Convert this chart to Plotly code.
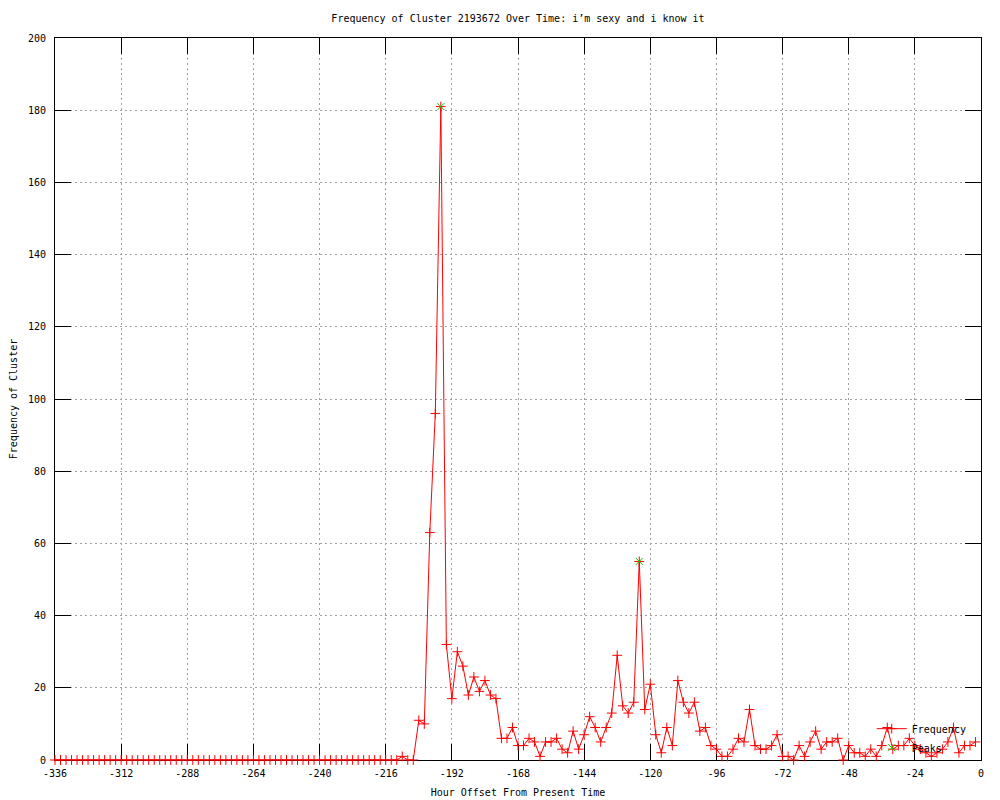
import plotly.graph_objects as go

# Hour offsets (every 2 hours, from -336 to -2)
hours = list(range(-336, 0, 2))

# Frequency of cluster per 2-hour bin
freq = [
    0, 0, 0, 0, 0, 0, 0, 0, 0, 0,
    0, 0, 0, 0, 0, 0, 0, 0, 0, 0,
    0, 0, 0, 0, 0, 0, 0, 0, 0, 0,
    0, 0, 0, 0, 0, 0, 0, 0, 0, 0,
    0, 0, 0, 0, 0, 0, 0, 0, 0, 0,
    0, 0, 0, 0, 0, 0, 0, 0, 0, 0,
    0, 0, 0,
    1, 0, 0, 11, 10, 63, 96, 181, 32, 17,
    30, 26, 18, 23, 19, 22, 18, 17, 6, 6,
    9, 4, 4, 6, 5, 1, 5, 5, 6, 3,
    2, 8, 3, 7, 12, 9, 5, 9, 13, 29,
    15, 13, 16, 55, 14, 21, 7, 2, 9, 4,
    22, 16, 13, 16, 8, 9, 4, 3, 1, 1,
    3, 6, 5, 14, 4, 3, 3, 4, 7, 1,
    1, 0, 4, 1, 5, 8, 3, 5, 5, 6,
    0, 4, 2, 2, 1, 3, 1, 4, 9, 3,
    4, 4, 6, 4, 3, 2, 1, 2, 3, 5,
    9, 2, 4, 4, 5,
]

peak_hours = [-196, -124]
peak_freq = [181, 55]

x_tick_vals = [-336, -312, -288, -264, -240, -216, -192, -168, -144, -120, -96, -72, -48, -24, 0]
x_tick_text = ["-336", "-312", "-288", "-264", "-240", "-216", "-192", "-168", "-144",
               "-120", "-96", "-72", "-48", "-24", "0"]
y_tick_vals = [0, 20, 40, 60, 80, 100, 120, 140, 160, 180, 200]

FONT = "DejaVu Sans Mono"
W, H = 992, 792

fig = go.Figure()
fig.add_trace(go.Scatter(
    x=hours, y=freq, mode="lines+markers", name="Frequency",
    line=dict(color="#ff0000", width=1),
    marker=dict(symbol="cross-thin", size=7, color="#ff0000",
                line=dict(color="#ff0000", width=1)),
    cliponaxis=False,
))
fig.add_trace(go.Scatter(
    x=peak_hours, y=peak_freq, mode="markers", name="Peaks",
    marker=dict(symbol="x-thin", size=7, color="#00cc00",
                line=dict(color="#00cc00", width=1)),
    cliponaxis=False,
))

axis_common = dict(
    showline=True, linecolor="black", linewidth=1, mirror="ticks",
    ticks="inside", ticklen=16, tickcolor="black", tickwidth=1,
    showgrid=True, gridcolor="#a0a0a0", gridwidth=1, griddash="2px,3px",
    zeroline=False, automargin=False,
    tickfont=dict(family=FONT, size=10, color="black"),
    layer="below traces",
)

fig.update_layout(
    width=W, height=H, autosize=False,
    margin=dict(l=47, r=19, t=30, b=40),
    paper_bgcolor="white", plot_bgcolor="white",
    font=dict(family=FONT, size=10, color="black"),
    title=dict(text="Frequency of Cluster 2193672 Over Time: i’m sexy and i know it",
               x=0.5, xref="paper", xanchor="center",
               y=1 - 10 / H, yref="container", yanchor="middle",
               font=dict(family=FONT, size=10, color="black")),
    xaxis=dict(range=[-336, 0], tickvals=x_tick_vals, ticktext=x_tick_text,
               ticklabelstandoff=4,
               title=dict(text="Hour Offset From Present Time", standoff=10,
                          font=dict(family=FONT, size=10)),
               **axis_common),
    yaxis=dict(range=[0, 200], tickvals=y_tick_vals,
               ticklabelstandoff=6,
               title=dict(text="Frequency of Cluster", standoff=8,
                          font=dict(family=FONT, size=10)),
               **axis_common),
    legend=dict(x=0.99, xanchor="right", y=-0.003, yanchor="bottom",
                bgcolor="rgba(0,0,0,0)", font=dict(family=FONT, size=10),
                itemwidth=30, tracegroupgap=0),
    showlegend=True,
)

fig.write_html("out.html")
